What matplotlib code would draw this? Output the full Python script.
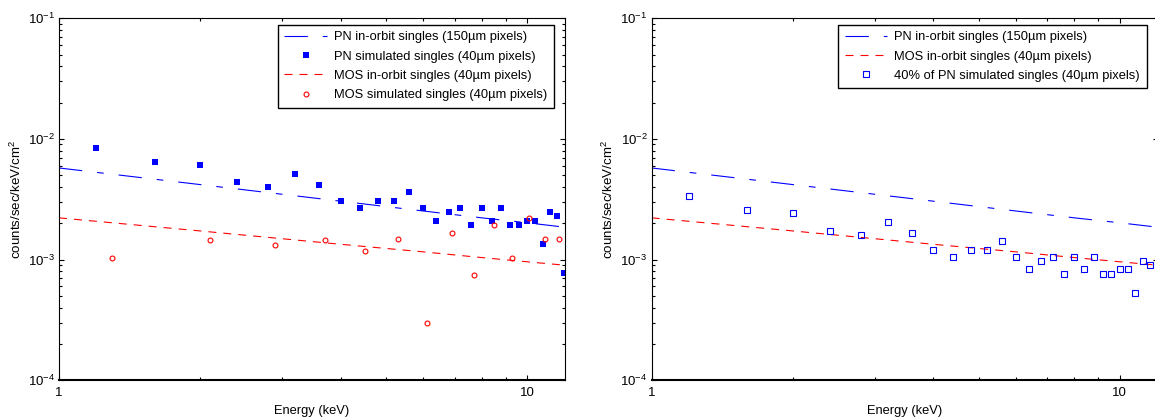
import numpy as np
import matplotlib
matplotlib.use('Agg')
import matplotlib.pyplot as plt
from matplotlib.ticker import LogLocator, FixedLocator, FixedFormatter, NullFormatter

plt.rcParams['font.family'] = ['Liberation Sans', 'DejaVu Sans']
plt.rcParams['mathtext.fontset'] = 'custom'
plt.rcParams['mathtext.rm'] = 'Liberation Sans'
plt.rcParams['mathtext.it'] = 'Liberation Sans:italic'

# in-orbit background levels
line_energy = [1.0, 2.0, 4.0, 6.0, 8.0, 10.0, 12.0]
pn_orbit = [5.75e-3, 4.19e-3, 3.05e-3, 2.53e-3, 2.22e-3, 2.02e-3, 1.86e-3]
mos_orbit = [2.22e-3, 1.73e-3, 1.34e-3, 1.16e-3, 1.04e-3, 9.6e-4, 9.0e-4]

# PN simulated singles, 0.4 keV bins
pn_energy = [1.2, 1.6, 2.0, 2.4, 2.8, 3.2, 3.6, 4.0, 4.4, 4.8, 5.2, 5.6, 6.0, 6.4,
             6.8, 7.2, 7.6, 8.0, 8.4, 8.8, 9.2, 9.6, 10.0, 10.4, 10.8, 11.2, 11.6, 12.0]
pn_sim = [8.37e-3, 6.41e-3, 6.06e-3, 4.38e-3, 3.99e-3, 5.11e-3, 4.17e-3, 3.05e-3,
          2.69e-3, 3.05e-3, 3.05e-3, 3.63e-3, 2.70e-3, 2.10e-3, 2.50e-3, 2.70e-3,
          1.92e-3, 2.70e-3, 2.10e-3, 2.70e-3, 1.92e-3, 1.92e-3, 2.10e-3, 2.10e-3,
          1.34e-3, 2.50e-3, 2.28e-3, 7.68e-4]
# 40% of PN simulated (right panel), last bin falls off the picture
pn40_energy = [1.2, 1.6, 2.0, 2.4, 2.8, 3.2, 3.6, 4.0, 4.4, 4.8, 5.2, 5.6, 6.0, 6.4,
               6.8, 7.2, 7.6, 8.0, 8.4, 8.8, 9.2, 9.6, 10.0, 10.4, 10.8, 11.2, 11.6]
pn_sim_40 = [3.36e-3, 2.59e-3, 2.45e-3, 1.74e-3, 1.61e-3, 2.06e-3, 1.67e-3, 1.21e-3,
             1.06e-3, 1.21e-3, 1.21e-3, 1.44e-3, 1.06e-3, 8.43e-4, 9.81e-4, 1.06e-3,
             7.66e-4, 1.06e-3, 8.43e-4, 1.06e-3, 7.66e-4, 7.66e-4, 8.43e-4, 8.43e-4,
             5.34e-4, 9.81e-4, 9.1e-4]

# MOS simulated singles, 0.8 keV bins
mos_energy = [1.3, 2.1, 2.9, 3.7, 4.5, 5.3, 6.1, 6.9, 7.7, 8.5, 9.3, 10.1, 10.9, 11.7]
mos_sim = [1.04e-3, 1.46e-3, 1.33e-3, 1.46e-3, 1.19e-3, 1.47e-3, 2.98e-4, 1.65e-3,
           7.40e-4, 1.92e-3, 1.04e-3, 2.23e-3, 1.47e-3, 1.47e-3]

BLUE = '#0000ff'
RED = '#ff0000'
PN_DASH = (0, (21, 13.5, 6, 13.5))
MOS_DASH = (0, (7.2, 6.3))
FS = 9.3


def style_axes(ax):
    ax.set_xscale('log')
    ax.set_yscale('log')
    ax.set_xlim(1, 12.05)
    ax.set_ylim(1e-4, 1e-1)
    ax.xaxis.set_major_locator(FixedLocator([1, 10]))
    ax.xaxis.set_major_formatter(FixedFormatter(['1', '10']))
    ax.xaxis.set_minor_locator(LogLocator(base=10, subs=np.arange(2, 10)))
    ax.xaxis.set_minor_formatter(NullFormatter())
    ax.yaxis.set_major_locator(LogLocator(base=10))
    ax.yaxis.set_minor_locator(LogLocator(base=10, subs=np.arange(2, 10)))
    ax.yaxis.set_minor_formatter(NullFormatter())
    ax.tick_params(which='both', direction='in', top=True, right=True,
                   width=0.8, labelsize=9.5)
    ax.tick_params(which='major', length=3.6)
    ax.tick_params(which='minor', length=2.2)
    ax.tick_params(axis='x', pad=5)
    ax.tick_params(axis='y', pad=3)
    for side in ['top', 'left', 'right']:
        ax.spines[side].set_linewidth(0.8)
    ax.spines['bottom'].set_linewidth(1.5)
    ax.set_xlabel('Energy (keV)', fontsize=FS, labelpad=4)
    ax.set_ylabel('counts/sec/keV/cm$^2$', fontsize=9.6, labelpad=3)


fig = plt.figure(figsize=(11.55, 4.18), dpi=100)
ax1 = fig.add_axes([0.0511, 0.0902, 0.4381, 0.8660])
ax2 = fig.add_axes([0.5642, 0.0902, 0.4381, 0.8660])

# left panel
ax1.plot(line_energy, pn_orbit, color=BLUE, lw=0.8, linestyle=PN_DASH,
         label='PN in-orbit singles (150µm pixels)')
ax1.plot(pn_energy, pn_sim, 's', color=BLUE, ms=4.0, mew=0, linestyle='none',
         label='PN simulated singles (40µm pixels)')
ax1.plot(line_energy, mos_orbit, color=RED, lw=0.8, linestyle=MOS_DASH,
         label='MOS in-orbit singles (40µm pixels)')
ax1.plot(mos_energy, mos_sim, 'o', mfc='none', mec=RED, ms=3.5, mew=0.8,
         linestyle='none', label='MOS simulated singles (40µm pixels)')
style_axes(ax1)

# right panel
ax2.plot(line_energy, pn_orbit, color=BLUE, lw=0.8, linestyle=PN_DASH,
         label='PN in-orbit singles (150µm pixels)')
ax2.plot(line_energy, mos_orbit, color=RED, lw=0.8, linestyle=MOS_DASH,
         label='MOS in-orbit singles (40µm pixels)')
ax2.plot(pn40_energy, pn_sim_40, 's', mfc='none', mec=BLUE, ms=3.7, mew=0.8,
         linestyle='none', label='40% of PN simulated singles (40µm pixels)')
style_axes(ax2)

for ax in (ax1, ax2):
    leg = ax.legend(loc='upper right', bbox_to_anchor=(0.978, 0.982),
                    borderaxespad=0, fontsize=FS, frameon=True, fancybox=False,
                    edgecolor='black', framealpha=1, handlelength=3.3,
                    handletextpad=0.55, labelspacing=0.56, borderpad=0.5)
    leg.get_frame().set_linewidth(1.0)

fig.savefig('out.png', dpi=100)
